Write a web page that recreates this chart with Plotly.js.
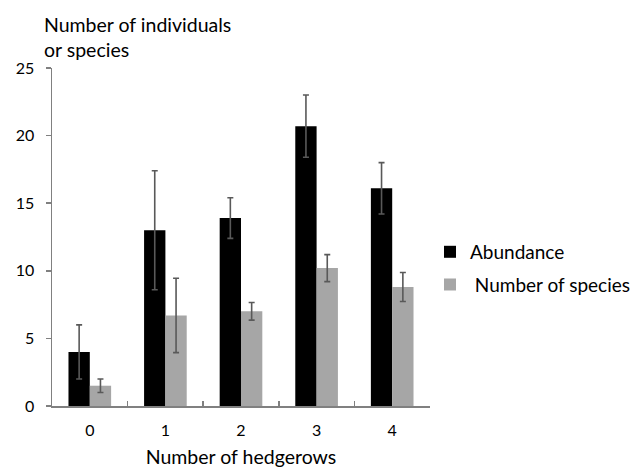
<!DOCTYPE html>
<html>
<head>
<meta charset="utf-8">
<script src="https://cdn.plot.ly/plotly-3.0.1.min.js"></script>
<style>html,body{margin:0;padding:0;background:#fff;}#chart{width:636px;height:469px;}</style>
</head>
<body>
<div id="chart"></div>
<script>
const categories = ["0", "1", "2", "3", "4"];
const abundance = [4.0, 13.0, 13.9, 20.7, 16.1];
const abundanceErr = [2.0, 4.4, 1.5, 2.3, 1.9];
const species = [1.5, 6.7, 7.0, 10.2, 8.8];
const speciesErr = [0.5, 2.75, 0.65, 1.0, 1.07];
const yTicks = [0, 5, 10, 15, 20, 25];

const font = "Lato, 'Open Sans', sans-serif";
const errStyle = {type: "data", visible: true, thickness: 1.6, width: 3, color: "#595959"};

const traces = [
  {type: "bar", name: "Abundance", x: categories, y: abundance, legendgroup: "a",
   marker: {color: "#000000"},
   error_y: Object.assign({array: abundanceErr}, errStyle)},
  {type: "bar", name: " Number of species", x: categories, y: species, legendgroup: "b",
   marker: {color: "#a6a6a6"},
   error_y: Object.assign({array: speciesErr}, errStyle)}
];

const layout = {
  width: 636, height: 469,
  margin: {l: 52, r: 206, t: 68, b: 63, autoexpand: false},
  paper_bgcolor: "#ffffff", plot_bgcolor: "#ffffff",
  font: {family: font, size: 16, color: "#000000"},
  barmode: "group", bargap: 0.436, bargroupgap: 0,
  showlegend: true,
  legend: {x: 1.0, y: 0.512, xanchor: "left", yanchor: "top", traceorder: "grouped",
           font: {family: font, size: 19, color: "#000"}, tracegroupgap: 5,
           itemwidth: 30, bgcolor: "rgba(0,0,0,0)"},
  xaxis: {type: "category", showline: true, linecolor: "#808080", linewidth: 1.5,
          ticks: "inside", tickson: "boundaries", ticklen: 5, tickcolor: "#808080", tickwidth: 1.5,
          showgrid: false, zeroline: false, ticklabelstandoff: 9,
          tickfont: {family: font, size: 16, color: "#000"},
          title: {text: "Number of hedgerows", font: {family: font, size: 19.5, color: "#000"}, standoff: 12}},
  yaxis: {range: [0, 25], tickvals: yTicks, showline: true, linecolor: "#808080", linewidth: 1.5,
          ticks: "outside", ticklen: 5, tickcolor: "#808080", tickwidth: 1.5,
          showgrid: false, zeroline: false, ticklabelstandoff: 8,
          tickfont: {family: font, size: 16, color: "#000"}},
  annotations: [{xref: "paper", yref: "paper", x: -0.027, y: 1.0, xanchor: "left", yanchor: "bottom",
                 yshift: 5, align: "left", showarrow: false,
                 text: "Number of individuals<br>or species",
                 font: {family: font, size: 19.5, color: "#000"}}]
};

Plotly.newPlot("chart", traces, layout, {displayModeBar: false, staticPlot: true});
</script>
</body>
</html>
